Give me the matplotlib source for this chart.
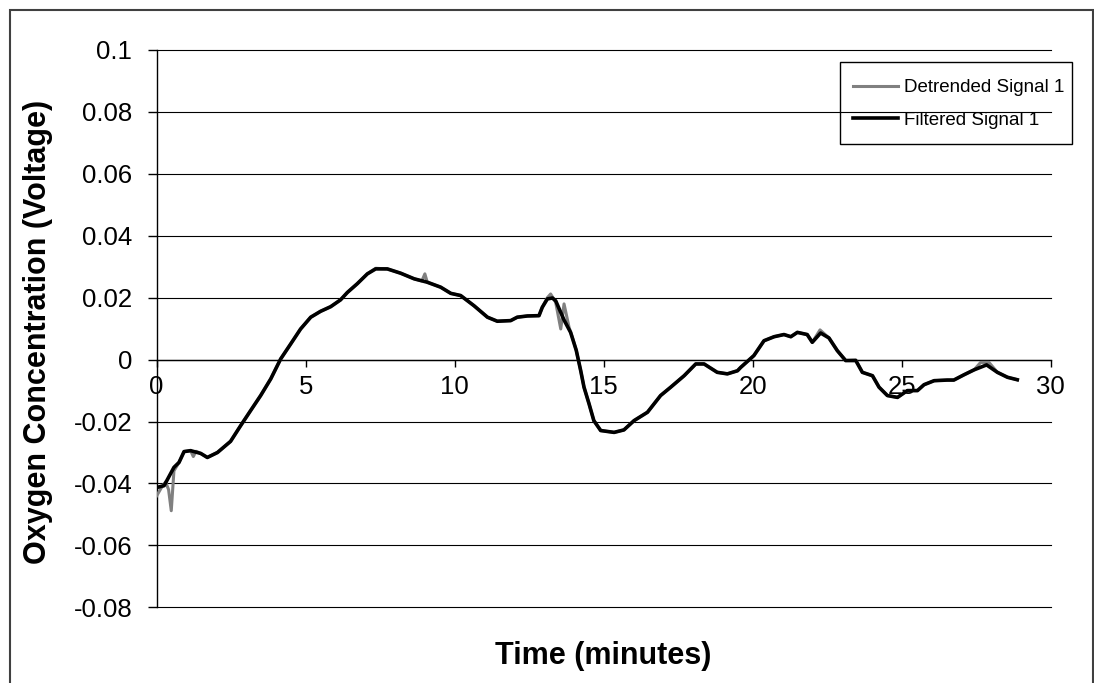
import matplotlib.pyplot as plt
from matplotlib.patches import Rectangle

plt.rcParams['font.family'] = ['Liberation Sans', 'DejaVu Sans']

# Filtered signal (minutes, volts)
filt_t = [0.00, 0.25, 0.58, 0.75, 0.92, 1.14, 1.48, 1.70, 2.04, 2.48, 2.82, 3.15,
          3.49, 3.83, 4.16, 4.50, 4.83, 5.17, 5.50, 5.84, 6.17, 6.40, 6.73, 7.07,
          7.35, 7.74, 8.19, 8.64, 9.08, 9.53, 9.87, 10.20, 10.65, 11.10, 11.43, 11.88,
          12.10, 12.44, 12.83, 12.94, 13.11, 13.28, 13.39, 13.67, 13.89, 14.08, 14.23,
          14.34, 14.51, 14.67, 14.90, 15.35, 15.68, 16.02, 16.47, 16.91, 17.25, 17.70,
          18.09, 18.37, 18.81, 19.15, 19.49, 19.60, 20.04, 20.38, 20.72, 21.05, 21.28,
          21.50, 21.83, 22.00, 22.28, 22.56, 22.84, 23.12, 23.46, 23.68, 24.02, 24.24,
          24.52, 24.86, 25.19, 25.53, 25.75, 26.09, 26.53, 26.75, 27.09, 27.43, 27.85,
          28.21, 28.55, 28.88]
filt_v = [-0.0413, -0.0407, -0.0348, -0.0332, -0.0297, -0.0294, -0.0303, -0.0316,
          -0.0300, -0.0264, -0.0213, -0.0165, -0.0116, -0.0062, 0.0002, 0.0051, 0.0099,
          0.0137, 0.0156, 0.0171, 0.0193, 0.0217, 0.0245, 0.0277, 0.0293, 0.0293, 0.0279,
          0.0261, 0.0250, 0.0234, 0.0214, 0.0207, 0.0174, 0.0137, 0.0124, 0.0126, 0.0137,
          0.0141, 0.0142, 0.0169, 0.0196, 0.0199, 0.0190, 0.0128, 0.0088, 0.0030, -0.0036,
          -0.0089, -0.0143, -0.0197, -0.0229, -0.0235, -0.0227, -0.0197, -0.0170, -0.0116,
          -0.0089, -0.0052, -0.0014, -0.0014, -0.0041, -0.0046, -0.0036, -0.0025, 0.0013,
          0.0061, 0.0074, 0.0081, 0.0074, 0.0088, 0.0081, 0.0056, 0.0086, 0.0070, 0.0029,
          -0.0003, -0.0003, -0.0041, -0.0052, -0.0089, -0.0116, -0.0122, -0.0100, -0.0100,
          -0.0081, -0.0068, -0.0066, -0.0066, -0.0049, -0.0033, -0.0017, -0.0041, -0.0057,
          -0.0065]

# Detrended (raw) signal
detr_t = [0.00, 0.15, 0.30, 0.40, 0.49, 0.58, 0.75, 0.92, 1.14, 1.23, 1.32, 1.48,
          1.70, 2.04, 2.48, 2.82, 3.15, 3.49, 3.83, 4.16, 4.50, 4.83, 5.17, 5.50, 5.84,
          6.17, 6.40, 6.73, 7.07, 7.35, 7.74, 8.19, 8.64, 8.90, 9.00, 9.08, 9.53, 9.87,
          10.20, 10.65, 11.10, 11.43, 11.88, 12.10, 12.44, 12.83, 12.94, 13.11, 13.22,
          13.39, 13.56, 13.67, 13.84, 13.95, 14.08, 14.23, 14.34, 14.51, 14.67, 14.90,
          15.35, 15.68, 16.02, 16.47, 16.91, 17.25, 17.70, 18.09, 18.37, 18.81, 19.15,
          19.49, 19.60, 20.04, 20.38, 20.72, 21.05, 21.28, 21.50, 21.83, 22.00, 22.26,
          22.56, 22.84, 23.12, 23.46, 23.68, 24.02, 24.24, 24.52, 24.86, 25.19, 25.53,
          25.75, 26.09, 26.53, 26.75, 27.09, 27.43, 27.65, 27.93, 28.21, 28.55, 28.88]
detr_v = [-0.0440, -0.0415, -0.0395, -0.0420, -0.0488, -0.0359, -0.0332, -0.0297,
          -0.0294, -0.0313, -0.0296, -0.0303, -0.0316, -0.0300, -0.0264, -0.0213, -0.0165,
          -0.0116, -0.0062, 0.0002, 0.0051, 0.0099, 0.0137, 0.0156, 0.0171, 0.0193, 0.0217,
          0.0245, 0.0277, 0.0295, 0.0293, 0.0279, 0.0261, 0.0254, 0.0277, 0.0250, 0.0234,
          0.0214, 0.0207, 0.0174, 0.0137, 0.0124, 0.0126, 0.0137, 0.0141, 0.0142, 0.0169,
          0.0200, 0.0212, 0.0185, 0.0099, 0.0180, 0.0104, 0.0072, 0.0030, -0.0036, -0.0089,
          -0.0143, -0.0197, -0.0229, -0.0235, -0.0227, -0.0197, -0.0170, -0.0116, -0.0089,
          -0.0052, -0.0014, -0.0014, -0.0041, -0.0046, -0.0036, -0.0025, 0.0013, 0.0061,
          0.0074, 0.0081, 0.0074, 0.0088, 0.0081, 0.0056, 0.0096, 0.0070, 0.0029, -0.0003,
          -0.0001, -0.0041, -0.0052, -0.0089, -0.0116, -0.0122, -0.0100, -0.0100, -0.0081,
          -0.0068, -0.0066, -0.0066, -0.0049, -0.0033, -0.0009, -0.0009, -0.0041, -0.0057,
          -0.0065]

x_ticks = [0, 5, 10, 15, 20, 25, 30]
x_tick_labels = ['0', '5', '10', '15', '20', '25', '30']
y_ticks = [-0.08, -0.06, -0.04, -0.02, 0, 0.02, 0.04, 0.06, 0.08, 0.1]
y_tick_labels = ['-0.08', '-0.06', '-0.04', '-0.02', '0', '0.02', '0.04', '0.06', '0.08', '0.1']

fig = plt.figure(figsize=(10.94, 6.83), dpi=100)
ax = fig.add_axes([0.1432, 0.1108, 0.8172, 0.8160])

ax.plot(detr_t, detr_v, color='#808080', lw=2.2, label='Detrended Signal 1', zorder=3)
ax.plot(filt_t, filt_v, color='black', lw=2.6, label='Filtered Signal 1', zorder=4)

ax.set_xlim(0, 30)
ax.set_ylim(-0.08, 0.1)
ax.set_xticks(x_ticks)
ax.set_xticklabels(x_tick_labels)
ax.set_yticks(y_ticks)
ax.set_yticklabels(y_tick_labels)

# horizontal gridlines only, x axis crossing at zero
ax.yaxis.grid(True, color='black', lw=0.8)
for gl in ax.get_ygridlines():
    gl.set_clip_on(False)
ax.set_axisbelow(True)
ax.spines['top'].set_visible(False)
ax.spines['right'].set_visible(False)
ax.spines['bottom'].set_position(('data', 0))
ax.spines['left'].set_linewidth(1.0)
ax.spines['bottom'].set_linewidth(1.0)
ax.tick_params(axis='y', direction='out', length=6.5, width=1, pad=11, labelsize=18.5)
ax.tick_params(axis='x', direction='out', length=5, width=1, pad=6, labelsize=18.5)

fig.text(603 / 1094, 1 - 656 / 683, 'Time (minutes)', ha='center', va='center',
         fontsize=22, fontweight='bold')
fig.text(38 / 1094, 1 - 332 / 683, 'Oxygen Concentration (Voltage)', ha='center',
         va='center', rotation=90, fontsize=22, fontweight='bold')

leg = ax.legend(loc='center right', bbox_to_anchor=(1064 / 1094, 1 - 104 / 683),
                bbox_transform=fig.transFigure, fontsize=13.5, frameon=False,
                borderaxespad=0, borderpad=0, handlelength=2.4,
                handletextpad=0.3, labelspacing=0.8)

# legend frame
fig.patches.append(Rectangle((840 / 1094, 1 - 144 / 683), 232 / 1094, 82 / 683,
                             transform=fig.transFigure, fill=False, edgecolor='black',
                             lw=1.0))

# chart-area border
fig.patches.append(Rectangle((10 / 1094, -0.05), 1083 / 1094, 1 - 10 / 683 + 0.05,
                             transform=fig.transFigure, fill=False, edgecolor='#404040',
                             lw=1.5))

fig.savefig('out.png', dpi=100)
